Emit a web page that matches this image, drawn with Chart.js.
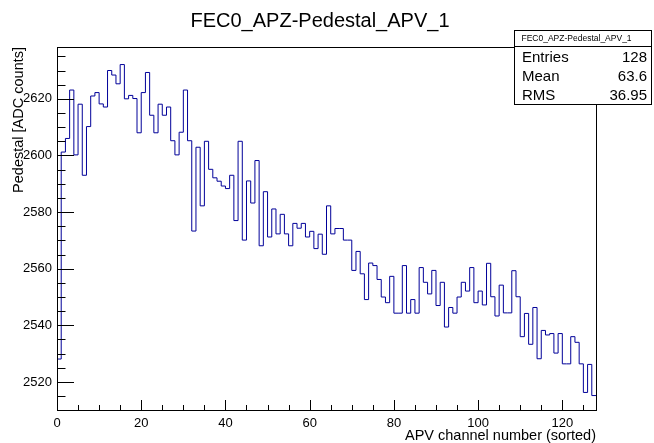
<!DOCTYPE html>
<html>
<head>
<meta charset="utf-8">
<script src="https://cdn.jsdelivr.net/npm/chart.js@4/dist/chart.umd.min.js"></script>
<style>
html,body{margin:0;padding:0;background:#fff;}
#wrap{width:654px;height:443px;position:relative;}
</style>
</head>
<body>
<div id="wrap"><canvas id="c" width="654" height="443"></canvas></div>
<script>
// ---- data ----
const histTitle = 'FEC0_APZ-Pedestal_APV_1';
const xAxisTitle = 'APV channel number (sorted)';
const yAxisTitle = 'Pedestal [ADC counts]';

// pedestal value of each of the 128 channel bins (bin i spans [i, i+1))
const pedestal = [
  2528.1, 2601.2, 2606.0, 2623.1, 2600.2, 2618.1, 2593.0, 2610.2,
  2621.0, 2622.2, 2618.2, 2617.1, 2630.0, 2628.4, 2625.3, 2632.1,
  2620.0, 2621.2, 2620.1, 2608.0, 2622.2, 2629.3, 2614.2, 2608.0,
  2618.1, 2614.2, 2617.1, 2605.2, 2600.2, 2608.2, 2623.1, 2605.2,
  2573.3, 2602.9, 2582.2, 2605.0, 2595.1, 2592.1, 2590.9, 2589.2,
  2588.3, 2593.0, 2577.0, 2605.0, 2570.1, 2591.0, 2583.2, 2598.2,
  2568.1, 2587.2, 2571.2, 2581.1, 2572.3, 2579.2, 2572.3, 2568.1,
  2576.0, 2574.3, 2576.0, 2571.2, 2573.2, 2567.1, 2572.2, 2565.1,
  2582.2, 2572.3, 2574.2, 2574.2, 2570.1, 2570.1, 2559.4, 2566.1,
  2558.2, 2549.1, 2562.0, 2561.1, 2556.2, 2550.0, 2548.0, 2557.3,
  2544.3, 2544.3, 2561.1, 2544.3, 2549.1, 2544.3, 2560.4, 2555.2,
  2551.1, 2559.4, 2547.0, 2555.2, 2539.4, 2546.3, 2544.3, 2550.0,
  2555.2, 2552.1, 2560.4, 2548.0, 2552.1, 2547.2, 2561.9, 2550.1,
  2543.3, 2554.2, 2544.4, 2544.4, 2559.3, 2550.1, 2536.0, 2544.2,
  2533.3, 2546.3, 2528.2, 2538.2, 2536.6, 2537.1, 2530.2, 2537.1,
  2526.4, 2526.4, 2536.0, 2534.0, 2526.4, 2516.3, 2526.2, 2515.2
];

const xRange = [0, 128];
const yRange = [2510.1, 2638.3];
const xTickLabels = [0, 20, 40, 60, 80, 100, 120];
const yTickLabels = [2520, 2540, 2560, 2580, 2600, 2620];
const minorPerMajor = 4;

const statNames = ['Entries', 'Mean', 'RMS'];
const statValues = ['128', '63.6', '36.95'];

// ---- build histogram outline points (bin edges) ----
const histPoints = pedestal.map((v, i) => ({x: i, y: v}));
histPoints.push({x: pedestal.length, y: pedestal[pedestal.length - 1]});

const FONT = '"Liberation Sans", Arial, Helvetica, sans-serif';

function minorTicks(majors, lo, hi) {
  const step = (majors[1] - majors[0]) / minorPerMajor;
  const out = [];
  let v = majors[0];
  while (v - step >= lo - 1e-9) v -= step;
  for (; v <= hi + 1e-9; v += step) {
    const isMajor = majors.some(m => Math.abs(m - v) < 1e-6);
    out.push({v: v, major: isMajor});
  }
  return out;
}

const rootPlugin = {
  id: 'rootStyle',
  afterDatasetsDraw(chart) {
    const {ctx, chartArea: a, scales} = chart;
    const xs = scales.x, ys = scales.y;
    ctx.save();
    ctx.strokeStyle = '#000';
    ctx.lineWidth = 1;
    ctx.beginPath();
    // y-axis ticks (inside, from left)
    minorTicks(yTickLabels, yRange[0], yRange[1]).forEach(t => {
      const py = Math.round(ys.getPixelForValue(t.v)) + 0.5;
      const len = t.major ? 17 : 8.5;
      ctx.moveTo(a.left, py);
      ctx.lineTo(a.left + len, py);
    });
    // x-axis ticks (inside, from bottom)
    minorTicks(xTickLabels, xRange[0], xRange[1]).forEach(t => {
      const px = Math.round(xs.getPixelForValue(t.v)) + 0.5;
      const len = t.major ? 10 : 5;
      ctx.moveTo(px, a.bottom);
      ctx.lineTo(px, a.bottom - len);
    });
    ctx.stroke();
    // frame
    ctx.strokeRect(a.left + 0.5, a.top + 0.5, a.right - a.left, a.bottom - a.top);
    ctx.restore();
  },
  afterDraw(chart) {
    const {ctx} = chart;
    ctx.save();
    // main title
    ctx.fillStyle = '#000';
    ctx.font = '20px ' + FONT;
    ctx.textAlign = 'center';
    ctx.textBaseline = 'alphabetic';
    ctx.fillText(histTitle, 320, 27);

    // stats box
    const bx = 514, by = 30, bw = 137, bh = 74, sep = 46;
    ctx.fillStyle = '#fff';
    ctx.fillRect(bx, by, bw, bh);
    ctx.strokeStyle = '#000';
    ctx.lineWidth = 1;
    ctx.strokeRect(bx + 0.5, by + 0.5, bw, bh);
    ctx.beginPath();
    ctx.moveTo(bx, sep + 0.5);
    ctx.lineTo(bx + bw, sep + 0.5);
    ctx.stroke();

    ctx.fillStyle = '#000';
    ctx.font = '8.5px ' + FONT;
    ctx.textAlign = 'left';
    ctx.textBaseline = 'middle';
    ctx.fillText(histTitle, 521.5, 39);

    ctx.font = '15px ' + FONT;
    const rowH = (by + bh - sep) / statNames.length;
    statNames.forEach((n, i) => {
      const cy = sep + rowH * (i + 0.5) + 2;
      ctx.textAlign = 'left';
      ctx.fillText(n, 522, cy);
      ctx.textAlign = 'right';
      ctx.fillText(statValues[i], 647, cy);
    });
    ctx.restore();
  }
};

new Chart(document.getElementById('c'), {
  type: 'line',
  data: {
    datasets: [{
      data: histPoints,
      stepped: 'before',
      borderColor: '#000099',
      borderWidth: 1,
      pointRadius: 0,
      fill: false,
      tension: 0
    }]
  },
  options: {
    responsive: false,
    devicePixelRatio: 1,
    animation: false,
    layout: {padding: {left: 0, right: 58, top: 47, bottom: 0}},
    plugins: {legend: {display: false}, tooltip: {enabled: false}, title: {display: false}},
    scales: {
      x: {
        type: 'linear',
        min: xRange[0], max: xRange[1],
        afterFit(s) { s.height = 33; },
        afterBuildTicks(s) { s.ticks = xTickLabels.map(v => ({value: v})); },
        grid: {display: false, drawTicks: false},
        border: {display: false},
        ticks: {
          autoSkip: false, maxRotation: 0, padding: 6, color: '#000',
          font: {family: FONT, size: 13},
          callback: v => String(v)
        },
        title: {
          display: true, text: xAxisTitle, align: 'end', color: '#000',
          font: {family: FONT, size: 14.5, lineHeight: 1.0},
          padding: {top: 0, bottom: 0}
        }
      },
      y: {
        type: 'linear',
        min: yRange[0], max: yRange[1],
        afterFit(s) { s.width = 57; },
        afterBuildTicks(s) { s.ticks = yTickLabels.map(v => ({value: v})); },
        grid: {display: false, drawTicks: false},
        border: {display: false},
        ticks: {
          autoSkip: false, padding: 5, color: '#000',
          font: {family: FONT, size: 13},
          callback: v => String(v)
        },
        title: {
          display: true, text: yAxisTitle, align: 'end', color: '#000',
          font: {family: FONT, size: 14.5, lineHeight: 1.2},
          padding: {top: 10, bottom: 0}
        }
      }
    }
  },
  plugins: [rootPlugin]
});
</script>
</body>
</html>
